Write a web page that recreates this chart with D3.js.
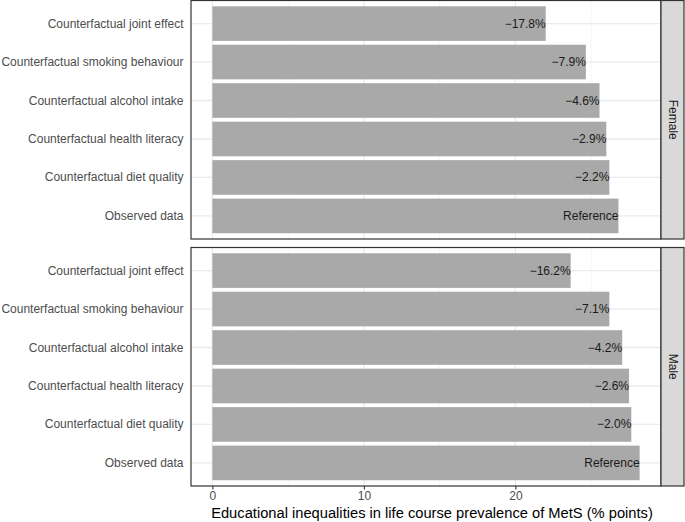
<!DOCTYPE html>
<html>
<head>
<meta charset="utf-8">
<script src="https://cdn.jsdelivr.net/npm/d3@7"></script>
<style>
  html, body { margin: 0; padding: 0; background: #fff; }
  svg { display: block; font-family: "Liberation Sans", Arial, Helvetica, sans-serif; }
</style>
</head>
<body>
<svg id="chart" width="685" height="522"></svg>
<script>
const categories = [
  "Counterfactual joint effect",
  "Counterfactual smoking behaviour",
  "Counterfactual alcohol intake",
  "Counterfactual health literacy",
  "Counterfactual diet quality",
  "Observed data"
];
const panels = ["Female", "Male"];
const femaleValues = [22.0, 24.65, 25.55, 26.0, 26.2, 26.8];
const maleValues = [23.65, 26.2, 27.05, 27.5, 27.65, 28.2];
const femaleLabels = ["−17.8%", "−7.9%", "−4.6%", "−2.9%", "−2.2%", "Reference"];
const maleLabels = ["−16.2%", "−7.1%", "−4.2%", "−2.6%", "−2.0%", "Reference"];
const xMajorTicks = [0, 10, 20];
const xMinorTicks = [5, 15, 25];
const xTitle = "Educational inequalities in life course prevalence of MetS (% points)";

const svg = d3.select("#chart");
const panelLeft = 191, panelRight = 661, stripRight = 684;
const panelTops = [0.5, 247.5], panelHeight = 238.5;

const maxV = d3.max(femaleValues.concat(maleValues));
const expand = maxV * 0.05;
const x = d3.scaleLinear().domain([-expand, maxV + expand]).range([panelLeft, panelRight]);

const seriesValues = [femaleValues, maleValues];
const seriesLabels = [femaleLabels, maleLabels];

panels.forEach((name, pi) => {
  const top = panelTops[pi], bottom = top + panelHeight;
  const y = d3.scalePoint().domain(categories).range([top, bottom]).padding(0.6);
  const step = y.step();
  const bh = step * 0.9;
  const g = svg.append("g");

  g.append("rect").attr("x", panelLeft).attr("y", top).attr("width", panelRight - panelLeft)
    .attr("height", panelHeight).attr("fill", "#fff");

  // minor grid
  g.selectAll(".minor").data(xMinorTicks).join("line")
    .attr("x1", d => x(d)).attr("x2", d => x(d)).attr("y1", top).attr("y2", bottom)
    .attr("stroke", "#F2F2F2").attr("stroke-width", 0.8);
  // major grid
  g.selectAll(".major").data(xMajorTicks).join("line")
    .attr("x1", d => x(d)).attr("x2", d => x(d)).attr("y1", top).attr("y2", bottom)
    .attr("stroke", "#EBEBEB").attr("stroke-width", 1.3);
  g.selectAll(".hgrid").data(categories).join("line")
    .attr("x1", panelLeft).attr("x2", panelRight).attr("y1", d => y(d)).attr("y2", d => y(d))
    .attr("stroke", "#EBEBEB").attr("stroke-width", 1.3);

  const vals = seriesValues[pi], labs = seriesLabels[pi];
  g.selectAll(".bar").data(categories).join("rect")
    .attr("x", x(0)).attr("y", d => y(d) - bh / 2)
    .attr("width", (d, i) => x(vals[i]) - x(0)).attr("height", bh)
    .attr("fill", "#A9A9A9");

  g.selectAll(".blab").data(categories).join("text")
    .attr("x", (d, i) => x(vals[i])).attr("y", d => y(d))
    .attr("text-anchor", "end").attr("dominant-baseline", "central")
    .attr("font-size", "12px").attr("fill", "#1a1a1a")
    .text((d, i) => labs[i]);

  // y axis labels
  g.selectAll(".ylab").data(categories).join("text")
    .attr("x", 183.5).attr("y", d => y(d))
    .attr("text-anchor", "end").attr("dominant-baseline", "central")
    .attr("font-size", "12px").attr("fill", "#4D4D4D")
    .text(d => d);

  g.append("rect").attr("x", panelLeft).attr("y", top).attr("width", panelRight - panelLeft)
    .attr("height", panelHeight).attr("fill", "none").attr("stroke", "#333333").attr("stroke-width", 1.2);

  // strip
  g.append("rect").attr("x", panelRight).attr("y", top).attr("width", stripRight - panelRight)
    .attr("height", panelHeight).attr("fill", "#D9D9D9").attr("stroke", "#333333").attr("stroke-width", 1.2);
  const cx = (panelRight + stripRight) / 2, cy = top + panelHeight / 2;
  g.append("text").attr("transform", `translate(${cx},${cy}) rotate(90)`)
    .attr("text-anchor", "middle").attr("dominant-baseline", "central")
    .attr("font-size", "12px").attr("fill", "#1A1A1A").text(name);
});

// x axis on bottom panel
const axisY = panelTops[1] + panelHeight;
const axis = svg.append("g").attr("transform", `translate(0,${axisY})`)
  .call(d3.axisBottom(x).tickValues(xMajorTicks).tickSize(3.5).tickPadding(2).tickFormat(d3.format("d")));
axis.select(".domain").remove();
axis.selectAll(".tick line").attr("stroke", "#333333").attr("stroke-width", 1.1);
axis.selectAll(".tick text").attr("fill", "#4D4D4D").attr("font-size", "12px")
  .attr("font-family", "Liberation Sans, Arial, sans-serif");

svg.append("text").attr("x", 432).attr("y", 518)
  .attr("text-anchor", "middle").attr("font-size", "14.7px").attr("fill", "#000")
  .text(xTitle);
</script>
</body>
</html>
